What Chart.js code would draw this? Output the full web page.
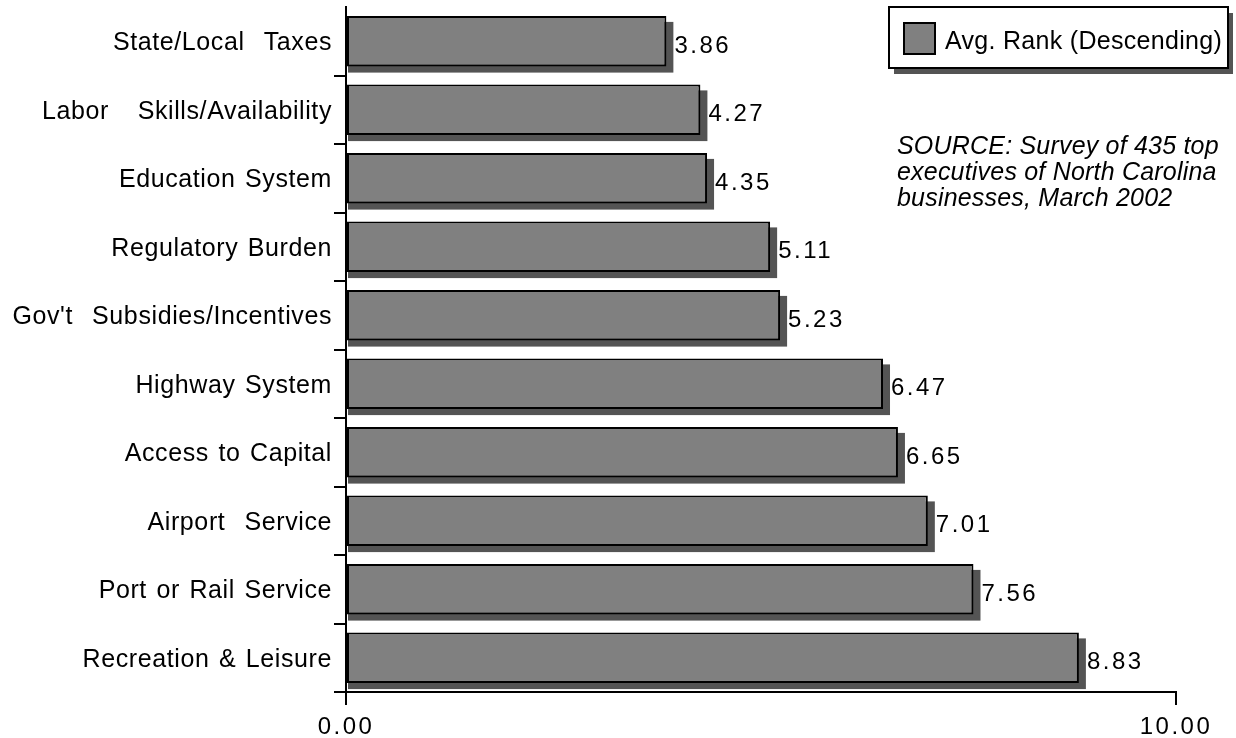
<!DOCTYPE html>
<html><head><meta charset="utf-8">
<script src="https://cdn.jsdelivr.net/npm/chart.js@4"></script>
<style>html,body{margin:0;padding:0;background:#fff;overflow:hidden}#wrap{width:1236px;height:738px}</style>
</head><body><div id="wrap"><canvas id="c" width="1236" height="738"></canvas></div>
<script>
const categories = ["State/Local  Taxes","Labor   Skills/Availability","Education System","Regulatory Burden","Gov't  Subsidies/Incentives","Highway System","Access to Capital","Airport  Service","Port or Rail Service","Recreation & Leisure"];
const avgRank = [3.86,4.27,4.35,5.11,5.23,6.47,6.65,7.01,7.56,8.83];
const xTickValues = [0,10];
const seriesLabel = "Avg. Rank (Descending)";
const sourceLines = ["SOURCE: Survey of 435 top","executives of North Carolina","businesses, March 2002"];

const FAMILY = "'Liberation Sans', Arial, Helvetica, sans-serif";
Chart.defaults.font.family = FAMILY;
Chart.defaults.color = '#000';

const spacingPlugin = {
  id: 'spacing',
  beforeDraw(chart) {
    const wrap = (scale, ls, ws) => {
      if (!scale || scale._wrappedSp) return;
      const orig = scale.drawLabels.bind(scale);
      scale.drawLabels = function(area) {
        const ctx = this.ctx;
        const pl = ctx.letterSpacing, pw = ctx.wordSpacing;
        ctx.letterSpacing = ls;
        ctx.wordSpacing = ws;
        orig(area);
        ctx.letterSpacing = pl || '0px';
        ctx.wordSpacing = pw || '0px';
      };
      scale._wrappedSp = true;
    };
    wrap(chart.scales.x, '2.5px', '0px');
    wrap(chart.scales.y, '0.6px', '2px');
  }
};

const shadowPlugin = {
  id: 'shadows',
  beforeDatasetsDraw(chart) {
    const ctx = chart.ctx;
    const meta = chart.getDatasetMeta(0);
    ctx.save();
    ctx.fillStyle = '#545454';
    meta.data.forEach(bar => {
      const h = bar.height;
      ctx.fillRect(bar.base + 1, bar.y - h / 2 + 6, bar.x - bar.base + 6, h);
    });
    ctx.restore();
  },
  afterDatasetsDraw(chart) {
    const ctx = chart.ctx;
    const meta = chart.getDatasetMeta(0);
    ctx.save();
    ctx.font = '24px ' + FAMILY;
    ctx.letterSpacing = '2.5px';
    ctx.fillStyle = '#000';
    ctx.textAlign = 'left';
    ctx.textBaseline = 'middle';
    meta.data.forEach((bar, i) => {
      ctx.fillText(avgRank[i].toFixed(2), bar.x + 8, bar.y + 5);
    });
    ctx.restore();
  },
  afterDraw(chart) {
    const ctx = chart.ctx;
    ctx.save();
    // legend box
    const lx = 889, ly = 7, lw = 339, lh = 61;
    ctx.fillStyle = '#545454';
    ctx.fillRect(lx + 5, ly + 6, lw, lh);
    ctx.fillStyle = '#fff';
    ctx.fillRect(lx, ly, lw, lh);
    ctx.lineWidth = 2;
    ctx.strokeStyle = '#000';
    ctx.strokeRect(lx, ly, lw, lh);
    ctx.fillStyle = '#808080';
    ctx.fillRect(904, 23, 31, 31);
    ctx.strokeRect(904, 23, 31, 31);
    ctx.fillStyle = '#000';
    ctx.font = '25px ' + FAMILY;
    ctx.letterSpacing = '0.3px';
    ctx.textAlign = 'left';
    ctx.textBaseline = 'middle';
    ctx.fillText(seriesLabel, 945, 42);
    // source note
    ctx.font = 'italic 25px ' + FAMILY;
    ctx.letterSpacing = '0.2px';
    sourceLines.forEach((t, i) => ctx.fillText(t, 897, 147 + i * 26));
    ctx.restore();
  }
};

new Chart(document.getElementById('c'), {
  type: 'bar',
  data: {
    labels: categories,
    datasets: [{
      label: seriesLabel,
      data: avgRank,
      backgroundColor: '#808080',
      borderColor: '#000',
      borderWidth: 2,
      borderSkipped: false,
      categoryPercentage: 1,
      barPercentage: 0.74
    }]
  },
  options: {
    indexAxis: 'y',
    responsive: false,
    animation: false,
    devicePixelRatio: 1,
    layout: { padding: { top: 7, right: 60, bottom: 0, left: 0 } },
    plugins: { legend: { display: false }, tooltip: { enabled: false } },
    scales: {
      x: {
        type: 'linear', min: 0, max: 10,
        afterBuildTicks: s => { s.ticks = xTickValues.map(v => ({ value: v })); },
        afterFit: s => { s.height = 46; s.paddingLeft = 0; s.paddingRight = 0; },
        ticks: { callback: v => Number(v).toFixed(2), font: { size: 24 }, color: '#000', padding: 8, maxRotation: 0, autoSkip: false },
        grid: { drawOnChartArea: false, tickLength: 13, color: '#000', lineWidth: 2 },
        border: { color: '#000', width: 2 }
      },
      y: {
        type: 'category',
        afterFit: s => { s.width = 346; s.paddingTop = 0; s.paddingBottom = 0; },
        ticks: { font: { size: 25 }, color: '#000', padding: 2, autoSkip: false, labelOffset: 2 },
        grid: { drawOnChartArea: false, offset: true, tickLength: 12, lineWidth: 2,
          color: c => (c.index === 0 ? 'rgba(0,0,0,0)' : '#000') },
        border: { color: '#000', width: 2 }
      }
    }
  },
  plugins: [spacingPlugin, shadowPlugin]
});
</script>
</body></html>
